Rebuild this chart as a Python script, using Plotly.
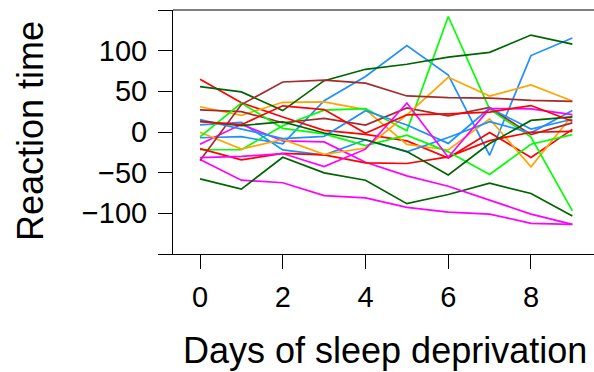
import plotly.graph_objects as go

days = [0, 1, 2, 3, 4, 5, 6, 7, 8, 9]

# Reaction time residuals (deviation from the daily mean), one list per subject
s308 = [-7.1, -5.8, -14.6, 38.4, 68.2, 106.2, 70.0, -28.6, 94.0, 115.5]
s309 = [-33.9, -59.2, -62.4, -78.3, -80.9, -92.6, -98.5, -101.0, -112.3, -113.5]
s310 = [-57.6, -70.2, -31.0, -50.2, -59.3, -88.1, -76.8, -63.0, -75.6, -103.3]
s330 = [64.9, 35.9, 18.5, 2.1, -2.9, -10.9, -31.9, -0.5, -31.3, 3.2]
s331 = [31.0, 20.5, 36.5, 37.1, 27.6, -15.2, -22.1, 16.1, -42.9, 20.7]
s332 = [-21.8, -21.7, 7.6, 26.8, 28.8, 1.5, 142.0, 28.1, -6.3, -97.0]
s333 = [27.2, 25.1, 11.4, 16.8, 8.5, 29.6, 19.8, 30.1, -3.3, 11.2]
s334 = [8.8, 11.7, -22.0, -28.3, -9.6, -24.3, -6.7, 12.8, -0.9, 26.4]
s335 = [-15.0, 9.4, -10.9, -12.2, -37.2, -53.9, -66.7, -83.4, -100.9, -113.6]
s337 = [55.7, 49.3, 26.3, 63.1, 77.1, 83.3, 92.1, 97.9, 119.2, 108.1]
s349 = [-20.5, -34.2, -26.4, -28.1, -37.9, -38.7, -30.6, -10.6, -0.3, 0.8]
s350 = [-0.4, -21.0, -9.2, -27.5, -19.7, 21.2, 67.3, 44.2, 57.9, 38.2]
s351 = [-6.1, 35.6, 4.5, -2.4, -16.8, -3.9, -24.4, -52.2, -15.1, -3.3]
s352 = [-35.0, 33.7, 61.5, 63.9, 60.1, 44.3, 42.2, 41.7, 39.0, 37.7]
s369 = [15.3, 3.9, -8.1, -5.3, 26.2, 8.7, -14.0, 29.4, 3.6, 15.7]
s370 = [-31.4, -30.0, -26.5, -42.5, -21.1, 35.7, -31.0, 28.8, 28.5, 21.4]
s371 = [13.2, 7.9, 12.5, -1.2, -9.5, -24.0, -52.9, -14.1, 14.2, 18.6]
s372 = [12.8, 9.0, 32.2, 27.6, -1.5, 21.1, 22.3, 24.5, 32.5, 13.3]

subjects = ["308", "309", "310", "330", "331", "332", "333", "334", "335",
            "337", "349", "350", "351", "352", "369", "370", "371", "372"]
series = [s308, s309, s310, s330, s331, s332, s333, s334, s335,
          s337, s349, s350, s351, s352, s369, s370, s371, s372]

palette = ["#1E90FF", "#FF00FF", "#006400", "#FF0000", "#FFA500", "#00FF00", "#A52A2A"]

y_tickvals = [-150, -100, -50, 0, 50, 100, 150]
y_ticktext = ["", "\u2212100", "\u221250", "0", "50", "100", ""]
x_tickvals = [0, 2, 4, 6, 8]

fig = go.Figure()
for i, (name, ys) in enumerate(zip(subjects, series)):
    fig.add_trace(go.Scatter(
        x=days, y=ys, mode="lines", name=name,
        line=dict(color=palette[i % len(palette)], width=1.7),
        showlegend=False,
    ))

font = "Liberation Sans, Arial, sans-serif"
fig.update_layout(
    width=594, height=372,
    margin=dict(l=173, r=0, t=10, b=118),
    paper_bgcolor="white", plot_bgcolor="white",
    font=dict(family=font, color="black"),
    xaxis=dict(
        range=[-0.653, 9.523], tickvals=x_tickvals,
        ticks="outside", ticklen=14, tickwidth=1, tickcolor="black",
        showline=True, linecolor="black", linewidth=1,
        showgrid=False, zeroline=False,
        tickfont=dict(size=29, family=font, color="black"),
        ticklabelstandoff=3,
    ),
    yaxis=dict(
        range=[-150, 150], tickvals=y_tickvals, ticktext=y_ticktext,
        ticks="outside", ticklen=14, tickwidth=1, tickcolor="black",
        showline=True, linecolor="black", linewidth=1,
        showgrid=False, zeroline=False,
        tickfont=dict(size=29, family=font, color="black"),
        ticklabelstandoff=5,
    ),
    shapes=[dict(type="line", xref="paper", yref="paper", x0=0, x1=1, y0=1, y1=1,
                 line=dict(color="black", width=1.2))],
    annotations=[
        dict(text="Days of sleep deprivation", xref="paper", yref="paper",
             x=(385 - 173) / 421, y=-(350 - 254) / 244, xanchor="center", yanchor="middle",
             showarrow=False, font=dict(size=36, family=font, color="black")),
        dict(text="Reaction time", xref="paper", yref="paper",
             x=-(173 - 30) / 421, y=(254 - 131) / 244, xanchor="center", yanchor="middle",
             textangle=-90, showarrow=False, font=dict(size=36, family=font, color="black")),
    ],
)

fig.write_html("out.html")
